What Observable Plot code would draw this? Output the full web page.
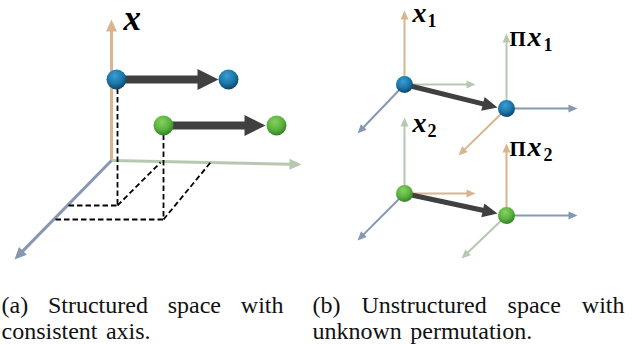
<!DOCTYPE html>
<html><head><meta charset="utf-8">
<script src="https://cdn.jsdelivr.net/npm/d3@7"></script>
<script src="https://cdn.jsdelivr.net/npm/@observablehq/plot@0.6"></script>
<style>
body{margin:0;background:#fff} svg{display:block}
</style>
</head><body><div id="chart"></div>
<script>
const palette = {orange:"#d9b48e", green:"#b5c9b1", blue:"#8698b2", dark:"#404040"};
const serif = "Liberation Serif";

// Panel (a): structured space
const axesA = [
  {x1:111, y1:160, x2:111, y2:19,  c:"orange"},
  {x1:111, y1:160, x2:301, y2:164, c:"green"},
  {x1:111, y1:160, x2:14,  y2:259, c:"blue"}
];
const dashesA = [
  {x1:117, y1:88,  x2:117, y2:205},
  {x1:68,  y1:205, x2:117, y2:205},
  {x1:117, y1:205, x2:160, y2:162},
  {x1:163, y1:134, x2:163, y2:219},
  {x1:55,  y1:219, x2:163, y2:219},
  {x1:163, y1:219, x2:210, y2:162}
];
const ballsA = [
  {x:116, y:79,  g:"blue"}, {x:228, y:79,  g:"blue"},
  {x:163, y:125, g:"green"}, {x:276, y:125, g:"green"}
];
const movesA = [
  {x1:116, y1:79,  x2:218, y2:79},
  {x1:163, y1:125, x2:265, y2:125}
];

// Panel (b): unstructured space
const axesB = [
  {x1:404, y1:84,  x2:404, y2:10,  c:"orange"},
  {x1:404, y1:84,  x2:475, y2:84,  c:"green"},
  {x1:404, y1:84,  x2:357, y2:133, c:"blue"},
  {x1:506, y1:108, x2:506, y2:33,  c:"green"},
  {x1:506, y1:108, x2:577, y2:108, c:"blue"},
  {x1:506, y1:108, x2:458, y2:155, c:"orange"},
  {x1:404, y1:193, x2:404, y2:117, c:"green"},
  {x1:404, y1:193, x2:475, y2:193, c:"orange"},
  {x1:404, y1:193, x2:357, y2:240, c:"blue"},
  {x1:506, y1:215, x2:506, y2:143, c:"orange"},
  {x1:506, y1:215, x2:577, y2:215, c:"blue"},
  {x1:506, y1:215, x2:461, y2:258, c:"green"}
];
const ballsB = [
  {x:404, y:84,  g:"blue"}, {x:506, y:108, g:"blue"},
  {x:404, y:193, g:"green"}, {x:506, y:215, g:"green"}
];
const movesB = [
  {x1:404, y1:84,  x2:497, y2:107},
  {x1:404, y1:193, x2:497, y2:213}
];

// Labels
const italicLabels = [
  {t:"x", x:123, y:29,  s:35},
  {t:"x", x:412, y:21,  s:28},
  {t:"x", x:527, y:45,  s:28},
  {t:"x", x:412, y:131, s:28},
  {t:"x", x:527, y:155, s:28}
];
const piLabels = [
  {t:"Π", x:509, y:45,  s:21},
  {t:"Π", x:509, y:155, s:21}
];
const subLabels = [
  {t:"1", x:427, y:26,  s:18},
  {t:"1", x:543, y:50,  s:18},
  {t:"2", x:427, y:136, s:18},
  {t:"2", x:543, y:160, s:18}
];
const captions = [
  {t:"(a) Structured space with",   x:1,   y:312, w:282, justify:true},
  {t:"consistent axis.",            x:1,   y:338, w:159, justify:false},
  {t:"(b) Unstructured space with", x:312, y:312, w:312, justify:true},
  {t:"unknown permutation.",        x:312, y:338, w:259, justify:false}
];
const captionSize = 24;

// measure words in the caption face, then lay each line out word by word
const probe = d3.select("body").append("svg").attr("width", 1).attr("height", 1)
  .style("position", "absolute").style("left", "-9999px");
const probeText = probe.append("text").attr("font-size", captionSize);
probeText.node().style.fontFamily = serif;
function measure(s) { probeText.text(s); return probeText.node().getComputedTextLength(); }
const spaceW = measure("a a") - measure("aa");
const captionWords = captions.flatMap(c => {
  const words = c.t.split(" ");
  const widths = words.map(measure);
  const total = d3.sum(widths);
  const gap = c.justify ? (c.w - total) / (words.length - 1) : spaceW * 1.4;
  let x = c.x;
  return words.map((t, i) => { const d = {t, x, y: c.y}; x += widths[i] + gap; return d; });
});
probe.remove();

// derive shafts and heads for arrows
function arrowParts(list, headLen) {
  return list.map(d => {
    const dx = d.x2 - d.x1, dy = d.y2 - d.y1, L = Math.hypot(dx, dy);
    const ux = dx / L, uy = dy / L;
    return {
      ...d,
      bx: d.x2 - ux * headLen, by: d.y2 - uy * headLen,
      sx: d.x2 - ux * (headLen - 1), sy: d.y2 - uy * (headLen - 1),
      rot: Math.atan2(dx, -dy) * 180 / Math.PI,
      col: d.c ? palette[d.c] : palette.dark
    };
  });
}
function arrowMarks(list, {w, len, half}) {
  const parts = arrowParts(list, len);
  return [
    Plot.link(parts, {x1:"x1", y1:"y1", x2:"sx", y2:"sy", stroke:"col", strokeWidth:w, strokeLinecap:"butt"}),
    Plot.vector(parts, {x:"bx", y:"by", rotate:"rot", length:len, r:half, shape:"spike", anchor:"start", fill:"col", fillOpacity:1, stroke:"none"})
  ];
}
function ballMarks(list, r) {
  return [
    Plot.dot(list.filter(d => d.g === "blue"),  {x:"x", y:"y", r, fill:"url(#ballBlue)", stroke:"none"}),
    Plot.dot(list.filter(d => d.g === "green"), {x:"x", y:"y", r, fill:"url(#ballGreen)", stroke:"none"})
  ];
}

const chart = Plot.plot({
  width: 639, height: 345,
  marginTop: 0, marginRight: 0, marginBottom: 0, marginLeft: 0,
  x: {type: "identity", axis: null},
  y: {type: "identity", axis: null},
  color: {type: "identity"},
  style: {background: "#fff", overflow: "visible"},
  marks: [
    ...arrowMarks(axesA, {w:3, len:12, half:5.5}),
    Plot.link(dashesA, {x1:"x1", y1:"y1", x2:"x2", y2:"y2", stroke:"#000", strokeWidth:1.8, strokeDasharray:"5.5,3"}),
    ...arrowMarks(movesA, {w:8, len:21, half:10.5}),
    ...ballMarks(ballsA, 10),
    ...arrowMarks(axesB, {w:2, len:9, half:4}),
    ...arrowMarks(movesB, {w:5, len:15, half:7}),
    ...ballMarks(ballsB, 8.5),
    Plot.text(italicLabels, {x:"x", y:"y", text:"t", fontSize:d => d.s, textAnchor:"start", lineAnchor:"bottom",
      fontFamily:serif, fontWeight:"bold", fontStyle:"italic", fill:"#000"}),
    Plot.text(piLabels, {x:"x", y:"y", text:"t", fontSize:d => d.s, textAnchor:"start", lineAnchor:"bottom",
      fontFamily:serif, fontWeight:"bold", fill:"#000"}),
    Plot.text(subLabels, {x:"x", y:"y", text:"t", fontSize:d => d.s, textAnchor:"start", lineAnchor:"bottom",
      fontFamily:serif, fontWeight:"bold", fill:"#000"}),
    Plot.text(captionWords, {x:"x", y:"y", text:"t", textAnchor:"start", lineAnchor:"bottom",
      fontFamily:serif, fontSize:captionSize, fill:"#111"})
  ]
});

// gradients for the spheres
const defs = d3.select(chart).insert("defs", ":first-child");
function grad(id, stops) {
  const g = defs.append("radialGradient").attr("id", id)
    .attr("cx", "42%").attr("cy", "32%").attr("r", "72%");
  stops.forEach(([o, c]) => g.append("stop").attr("offset", o).attr("stop-color", c));
}
grad("ballBlue",  [[0, "#3a9ed6"], [0.55, "#1b76aa"], [1, "#0a3f62"]]);
grad("ballGreen", [[0, "#86d15e"], [0.55, "#5cb23f"], [1, "#2f7a22"]]);

d3.select(chart).selectAll("text").each(function() { this.style.fontFamily = serif; });
document.getElementById("chart").append(chart);
</script>
</body></html>
